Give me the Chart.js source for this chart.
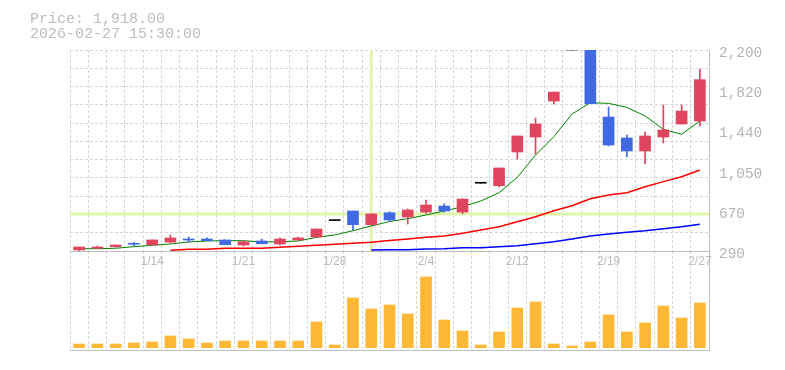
<!DOCTYPE html>
<html>
<head>
<meta charset="utf-8">
<script src="https://cdn.jsdelivr.net/npm/chart.js@4.4.1/dist/chart.umd.min.js"></script>
<style>
  body { margin: 0; background: #fff; }
  #wrap { position: relative; width: 785px; height: 370px; }
  canvas { position: absolute; left: 0; top: 0; }
  #info {
    position: absolute; left: 30px; top: 12px;
    font: 15px 'Liberation Mono', monospace; line-height: 15px;
    color: #bdbdbd; white-space: pre;
  }
</style>
</head>
<body>
<div id="wrap">
  <canvas id="volumeChart" width="785" height="370"></canvas>
  <canvas id="priceChart" width="785" height="370"></canvas>
  <div id="info">Price: 1,918.00
2026-02-27 15:30:00</div>
</div>
<script>
// daily candles, 2026-01-07 .. 2026-02-27
const dates = ['1/7','1/8','1/9','1/13','1/14','1/15','1/16','1/19','1/20','1/21',
  '1/22','1/23','1/26','1/27','1/28','1/29','1/30','2/2','2/3','2/4',
  '2/5','2/6','2/9','2/10','2/12','2/13','2/16','2/17','2/18','2/19',
  '2/20','2/24','2/25','2/26','2/27'];
const tickLabels = ['1/14','1/21','1/28','2/4','2/12','2/19','2/27'];
const priceTicks = [290, 670, 1050, 1440, 1820, 2200];

const open  = [300,316,331,359,347,375,404,404,395,347,385,356,395,423,579,670,540,654,613,660,717,660,934,911,1231,1373,1715,2200,2200,1563,1364,1240,1373,1497,1525];
const high  = [328,337,347,369,395,442,423,414,395,385,404,414,423,499,579,670,642,663,689,775,739,784,934,1079,1383,1554,1801,2200,2200,1658,1392,1421,1677,1677,2019];
const low   = [290,316,325,340,347,363,375,388,350,337,359,347,395,423,579,490,540,568,546,648,660,645,934,898,1164,1212,1687,2200,1690,1288,1183,1117,1316,1497,1478];
const close = [328,328,347,354,395,414,394,388,350,378,359,404,414,499,579,540,642,585,680,727,670,784,934,1079,1383,1497,1800,2200,1690,1297,1240,1383,1440,1620,1918];

// volume, thousand shares
const volumes = [37,37,37,47,57,117,87,47,67,67,67,67,67,257,27,497,387,427,337,707,277,167,27,157,397,457,37,17,57,327,157,247,417,297,447];

// moving averages (short / mid / long)
const maShort = [312,312,316,331,344,357,376,385,388,388,376,378,385,420,442,483,528,570,597,632,670,711,765,844,990,1202,1376,1592,1699,1693,1655,1573,1446,1399,1525];
const maMid = [null,null,null,null,null,297,306,306,316,316,316,325,335,344,354,363,373,390,404,420,432,458,490,521,568,616,673,720,787,822,844,901,949,996,1060];
const maLong = [null,null,null,null,null,null,null,null,null,null,null,null,null,null,null,null,300,302,302,309,312,321,321,331,340,359,378,404,433,452,468,483,502,521,544];

const crossIndex = 16;
const crossPrice = 642;

const upColor = '#e0445f';
const downColor = '#4169e1';
const gridColor = '#d6d6d6';
const axisColor = '#bebebe';

const candleColors = close.map((c, i) => c > open[i] ? upColor : (c < open[i] ? downColor : '#000000'));
const bodies = open.map((o, i) => [Math.min(o, close[i]), Math.max(o, close[i])]);
const wicks = low.map((l, i) => [l, high[i]]);

function withComma(v) {
    return String(v).replace(/\B(?=(\d{3})+(?!\d))/g, ',');
}

const crosshair = {
    id: 'crosshair',
    beforeDatasetsDraw(chart) {
        const { ctx, chartArea, scales } = chart;
        const x = scales.x.getPixelForValue(crossIndex);
        const y = scales.y.getPixelForValue(crossPrice);
        ctx.save();
        ctx.strokeStyle = '#e1f5aa';
        ctx.lineWidth = 3;
        ctx.beginPath();
        ctx.moveTo(x, chartArea.top);
        ctx.lineTo(x, chartArea.bottom);
        ctx.moveTo(chartArea.left, y);
        ctx.lineTo(chartArea.right, y);
        ctx.stroke();
        ctx.restore();
    }
};

const priceChart = new Chart(document.getElementById('priceChart'), {
    type: 'bar',
    data: {
        labels: dates,
        datasets: [
            { data: bodies, backgroundColor: candleColors, barThickness: 11, minBarLength: 1, grouped: false, order: 0, yAxisID: 'y' },
            { data: wicks, backgroundColor: candleColors, barThickness: 1, grouped: false, order: 1, yAxisID: 'y' },
            { type: 'line', data: maShort, borderColor: '#008000', borderWidth: 1, pointRadius: 0, order: 2, yAxisID: 'y' },
            { type: 'line', data: maMid, borderColor: '#ff0000', borderWidth: 1.5, pointRadius: 0, order: 3, yAxisID: 'y' },
            { type: 'line', data: maLong, borderColor: '#0000ff', borderWidth: 1.5, pointRadius: 0, order: 4, yAxisID: 'y' }
        ]
    },
    options: {
        responsive: false,
        animation: false,
        devicePixelRatio: 1,
        layout: { padding: { left: 70, top: 50, right: 0, bottom: 0 } },
        plugins: { legend: { display: false }, tooltip: { enabled: false } },
        scales: {
            x: {
                grid: { color: gridColor, drawTicks: false },
                border: { color: axisColor, dash: [3, 2] },
                ticks: {
                    autoSkip: false, maxRotation: 0, padding: 3,
                    color: '#bcbcbc', font: { family: 'Liberation Sans', size: 12 },
                    callback: (v, i) => tickLabels.includes(dates[i]) ? dates[i] : ''
                },
                afterFit: a => { a.height = 119; }
            },
            y: {
                position: 'right', min: 290, max: 2200,
                afterBuildTicks: a => { a.ticks = priceTicks.map(v => ({ value: v })); },
                grid: { display: false, drawTicks: false },
                border: { color: axisColor },
                ticks: {
                    padding: 10, labelOffset: 3,
                    color: '#b4b4b4', font: { family: 'Liberation Mono', size: 14.4 },
                    callback: v => withComma(v)
                },
                afterFit: a => { a.width = 76; }
            },
            yg: {
                position: 'left', min: 290, max: 2200,
                afterBuildTicks: a => {
                    a.ticks = Array.from({ length: 12 }, (_, i) => ({ value: 290 + i * 1910 / 11 }));
                },
                grid: { color: gridColor, drawTicks: false },
                border: { display: false, dash: [3, 2] },
                ticks: { display: false },
                afterFit: a => { a.width = 0; }
            }
        }
    },
    plugins: [crosshair]
});

const volumeChart = new Chart(document.getElementById('volumeChart'), {
    type: 'bar',
    data: {
        labels: dates,
        datasets: [{ data: volumes, backgroundColor: '#ffb835', barThickness: 11 }]
    },
    options: {
        responsive: false,
        animation: false,
        devicePixelRatio: 1,
        layout: { padding: { left: 70, top: 251, right: 0, bottom: 20 } },
        plugins: { legend: { display: false }, tooltip: { enabled: false } },
        scales: {
            x: {
                grid: { color: gridColor, drawTicks: false },
                border: { color: axisColor, dash: [3, 2] },
                ticks: { display: false },
                afterFit: a => { a.height = 0; }
            },
            y: {
                position: 'right', min: -23, max: 967,
                grid: { display: false, drawTicks: false },
                border: { color: axisColor },
                ticks: { display: false },
                afterFit: a => { a.width = 76; }
            }
        }
    }
});
</script>
</body>
</html>
